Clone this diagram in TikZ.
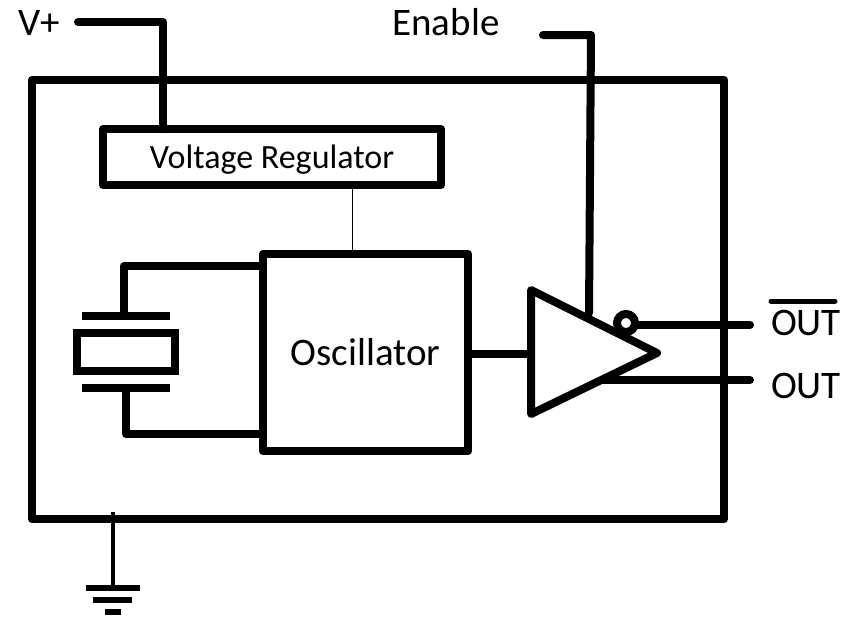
\documentclass[tikz,border=0pt]{standalone}
\usepackage{fontspec}
\setmainfont{Carlito}
\tikzset{
  heavy/.style={line width=8pt,line join=round,line cap=round},
  block/.style={draw,line width=8pt,line join=round,outer sep=0pt,inner sep=0pt},
  plate/.style={line width=8pt},
  gndbar/.style={line width=6pt},
  bigtext/.style={font=\fontsize{39}{39}\selectfont,inner sep=0pt},
  midtext/.style={font=\fontsize{34}{34}\selectfont,inner sep=0pt,text height=30pt,text depth=7pt}
}
\begin{document}
\begin{tikzpicture}[x=1pt,y=-1pt]
  \useasboundingbox (0,0) rectangle (850,619);
  % Package outline
  \node[block,minimum width=692pt,minimum height=439pt] (chip) at (378,299.5) {};
  % Regulator and oscillator
  \node[block,minimum width=338pt,minimum height=56pt,midtext] (reg) at (272,157) {Voltage Regulator};
  \node[block,minimum width=205pt,minimum height=197pt,bigtext] (osc) at (365.5,352.5) {Oscillator};
  \draw[line width=1.6pt] (reg.south -| osc.north) ++(-13,0) -- ++(0,69);
  % Supply and enable leads
  \node[bigtext,anchor=base] (vplus) at (39,35) {V+};
  \coordinate (vin) at (78,22);
  \coordinate (regin) at (163,129);
  \draw[heavy] (vin) -| (regin);
  \node[bigtext,anchor=base] (enable) at (446,35) {Enable};
  \coordinate (enin) at (543,35);
  \coordinate (encorner) at (591,35);
  \coordinate (entop) at (589,313);
  \draw[heavy] (enin) -- (encorner) -- (entop);
  % Crystal
  \node[draw,line width=8pt,minimum width=98pt,minimum height=38pt,outer sep=0pt] (xtal) at (126,352) {};
  \coordinate (platea) at (124,316);
  \coordinate (plateb) at (126,388);
  \draw[plate] (82,316) -- (170,316);
  \draw[plate] (82,388) -- (170,388);
  \coordinate (osca) at (262,266);
  \coordinate (oscb) at (262,434);
  \draw[heavy,line cap=butt] (platea) |- (osca);
  \draw[heavy,line cap=butt] (plateb) |- (oscb);
  % Output driver
  \coordinate (drvtop) at (531,290);
  \coordinate (drvbot) at (531,414);
  \coordinate (drvtip) at (657,353);
  \draw[heavy] (drvtop) -- (drvtip) -- (drvbot) -- cycle;
  \coordinate (drvin) at (531,354);
  \draw[heavy,line cap=butt] (osc.east |- drvin) -- (drvin);
  \node[circle,draw,fill=white,line width=8pt,minimum size=18pt,inner sep=0pt,outer sep=0pt] (bubble) at (626,323) {};
  % Outputs
  \coordinate (outnend) at (750,325);
  \coordinate (outend) at (750,380);
  \coordinate (outstart) at (603,380);
  \draw[heavy] (bubble.east |- outnend) -- (outnend);
  \draw[heavy] (outstart) -- (outend);
  \node[bigtext,anchor=base] (outn) at (806,335) {OUT};
  \node[bigtext,anchor=base] (outp) at (806,398) {OUT};
  \draw[line width=5pt,line cap=round] (771,301) -- (835,301);
  % Ground
  \coordinate (gndtop) at (113,512);
  \coordinate (gndbot) at (113,588);
  \draw[line width=3.6pt] (gndtop) -- (gndbot);
  \draw[gndbar] (86,588) -- (140,588);
  \draw[gndbar] (93,600) -- (132,600);
  \draw[gndbar] (105,612) -- (121,612);
\end{tikzpicture}
\end{document}
